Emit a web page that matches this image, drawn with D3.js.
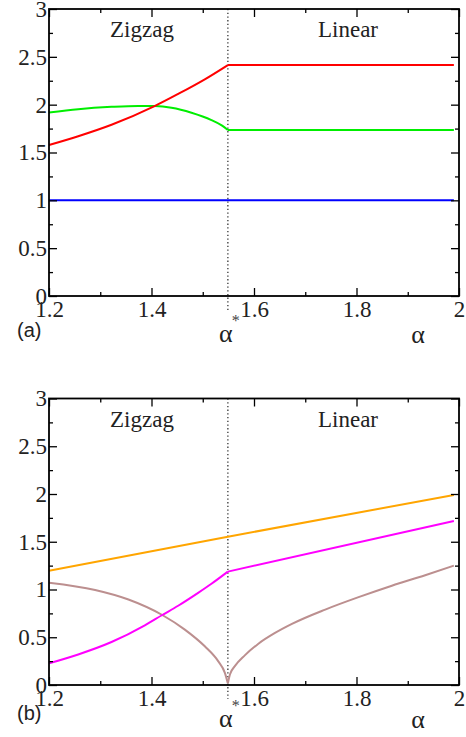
<!DOCTYPE html>
<html>
<head>
<meta charset="utf-8">
<script src="https://cdn.jsdelivr.net/npm/d3@7"></script>
<style>
  html, body { margin: 0; padding: 0; background: #fff; }
  svg { display: block; }
</style>
</head>
<body>
<svg id="chart" width="466" height="737"></svg>
<script>
// ---------- data ----------
const xTickValues = [1.2, 1.4, 1.6, 1.8, 2];
const xTickLabels = ["1.2", "1.4", "1.6", "1.8", "2"];
const yTickValues = [0, 0.5, 1, 1.5, 2, 2.5, 3];
const yTickLabels = ["0", "0.5", "1", "1.5", "2", "2.5", "3"];
const alphaStar = 1.549;
const regionLabels = ["Zigzag", "Linear"];
const panelLabels = ["(a)", "(b)"];

// panel (a)
const redZigAlpha   = [1.2, 1.257, 1.322, 1.406, 1.452, 1.504, 1.549];
const redZigVal     = [1.578, 1.670, 1.790, 1.985, 2.112, 2.265, 2.414];
const redLinAlpha   = [1.549, 1.99];
const redLinVal     = [2.414, 2.414];
const greenZigAlpha = [1.2, 1.257, 1.322, 1.374, 1.406, 1.439, 1.478, 1.517, 1.537, 1.549];
const greenZigVal   = [1.919, 1.953, 1.977, 1.987, 1.985, 1.967, 1.915, 1.838, 1.783, 1.735];
const greenLinAlpha = [1.549, 1.99];
const greenLinVal   = [1.735, 1.735];
const blueAlpha     = [1.2, 1.99];
const blueVal       = [1.0, 1.0];

// panel (b)
const orangeAlpha     = [1.2, 1.549, 1.99];
const orangeVal       = [1.197, 1.553, 1.99];
const magentaZigAlpha = [1.2, 1.257, 1.322, 1.387, 1.421, 1.452, 1.491, 1.517, 1.549];
const magentaZigVal   = [0.227, 0.320, 0.450, 0.625, 0.733, 0.830, 0.965, 1.060, 1.187];
const magentaLinAlpha = [1.549, 1.99];
const magentaLinVal   = [1.187, 1.717];
const brownLeftAlpha  = [1.2, 1.290, 1.355, 1.421, 1.465, 1.504, 1.530, 1.543, 1.549];
const brownLeftVal    = [1.071, 0.995, 0.895, 0.733, 0.580, 0.405, 0.250, 0.130, 0.018];
const brownRightAlpha = [1.549, 1.553, 1.563, 1.582, 1.608, 1.641, 1.674, 1.739, 1.804, 1.869, 1.934, 1.99];
const brownRightVal   = [0.018, 0.110, 0.200, 0.310, 0.430, 0.545, 0.640, 0.790, 0.920, 1.040, 1.150, 1.250];

// ---------- drawing ----------
const svg = d3.select("#chart");
const xLeft = 49, xRight = 459;
const x = d3.scaleLinear().domain([1.2, 2]).range([xLeft, xRight]);
const zip = (a, b) => a.map((v, i) => [v, b[i]]);

function drawPanel(p) {
  const y = d3.scaleLinear().domain([0, 3]).range([p.bottom, p.top]);
  const g = svg.append("g");

  // dotted vertical line at alpha*
  g.append("line")
    .attr("x1", x(alphaStar)).attr("x2", x(alphaStar))
    .attr("y1", p.top).attr("y2", p.bottom + 14)
    .attr("stroke", "#444").attr("stroke-width", 1.4)
    .attr("stroke-dasharray", "1.3,2.4");

  // series
  p.series.forEach(s => {
    const line = d3.line()
      .x(d => x(d[0])).y(d => y(d[1]))
      .curve(s.curve ? d3.curveMonotoneX : d3.curveLinear);
    g.append("path")
      .attr("d", line(zip(s.a, s.v)))
      .attr("fill", "none")
      .attr("stroke", s.color)
      .attr("stroke-width", s.w || 2)
      .attr("stroke-linejoin", "round");
  });

  const fontSerif = "'Liberation Serif', 'Times New Roman', serif";

  const minorX = d3.range(1.3, 2.0, 0.2);
  const minorY = d3.range(0.25, 3, 0.5);

  const axL = g.append("g").attr("transform", `translate(${xLeft},0)`)
    .call(d3.axisLeft(y).tickValues(yTickValues).tickSize(-8).tickPadding(2)
      .tickFormat((d, i) => yTickLabels[i]));
  const axLm = g.append("g").attr("transform", `translate(${xLeft},0)`)
    .call(d3.axisLeft(y).tickValues(minorY).tickSize(-4).tickFormat(""));
  const axR = g.append("g").attr("transform", `translate(${xRight},0)`)
    .call(d3.axisRight(y).tickValues(yTickValues).tickSize(-8).tickFormat(""));
  const axRm = g.append("g").attr("transform", `translate(${xRight},0)`)
    .call(d3.axisRight(y).tickValues(minorY).tickSize(-4).tickFormat(""));
  const axB = g.append("g").attr("transform", `translate(0,${p.bottom})`)
    .call(d3.axisBottom(x).tickValues(xTickValues).tickSize(-8).tickPadding(5)
      .tickFormat((d, i) => xTickLabels[i]));
  const axBm = g.append("g").attr("transform", `translate(0,${p.bottom})`)
    .call(d3.axisBottom(x).tickValues(minorX).tickSize(-4).tickFormat(""));
  const axT = g.append("g").attr("transform", `translate(0,${p.top})`)
    .call(d3.axisTop(x).tickValues(xTickValues).tickSize(-8).tickFormat(""));
  const axTm = g.append("g").attr("transform", `translate(0,${p.top})`)
    .call(d3.axisTop(x).tickValues(minorX).tickSize(-4).tickFormat(""));

  [axL, axLm, axR, axRm, axB, axBm, axT, axTm].forEach(a => {
    a.select(".domain").remove();
    a.selectAll(".tick line").attr("stroke", "#000").attr("stroke-width", 1.3);
    a.selectAll("text").attr("font-family", fontSerif).attr("font-size", 23).attr("fill", "#222");
  });

  // frame
  g.append("rect")
    .attr("x", xLeft).attr("y", p.top)
    .attr("width", xRight - xLeft).attr("height", p.bottom - p.top)
    .attr("fill", "none").attr("stroke", "#000").attr("stroke-width", 1.8);

  // region labels
  g.append("text").attr("x", 142).attr("y", p.top + 28)
    .attr("text-anchor", "middle").attr("font-family", fontSerif)
    .attr("font-size", 23).attr("fill", "#222").text(regionLabels[0]);
  g.append("text").attr("x", 348).attr("y", p.top + 28)
    .attr("text-anchor", "middle").attr("font-family", fontSerif)
    .attr("font-size", 23).attr("fill", "#222").text(regionLabels[1]);

  // panel label
  g.append("text").attr("x", 17).attr("y", p.labelY)
    .attr("font-family", "'Liberation Sans', Arial, sans-serif")
    .attr("font-size", 20).attr("fill", "#222").text(p.label);

  // alpha* label
  g.append("text").attr("x", x(alphaStar) - 2).attr("y", p.alphaY)
    .attr("text-anchor", "middle").attr("font-family", fontSerif)
    .attr("font-size", 26).attr("fill", "#222").text("α");
  g.append("text").attr("x", x(alphaStar) + 8).attr("y", p.alphaY - 16)
    .attr("text-anchor", "middle").attr("font-family", fontSerif)
    .attr("font-size", 16).attr("fill", "#444").text("*");
  // axis name
  g.append("text").attr("x", 418).attr("y", p.alphaY + 1)
    .attr("text-anchor", "middle").attr("font-family", fontSerif)
    .attr("font-size", 26).attr("fill", "#222").text("α");
}

drawPanel({
  top: 9, bottom: 296, label: panelLabels[0], labelY: 337, alphaY: 342,
  series: [
    { a: blueAlpha, v: blueVal, color: "#0000ff" },
    { a: greenZigAlpha, v: greenZigVal, color: "#00ee00", curve: true },
    { a: greenLinAlpha, v: greenLinVal, color: "#00ee00" },
    { a: redZigAlpha, v: redZigVal, color: "#ff0000", curve: true },
    { a: redLinAlpha, v: redLinVal, color: "#ff0000" }
  ]
});

drawPanel({
  top: 398.5, bottom: 685, label: panelLabels[1], labelY: 720, alphaY: 727,
  series: [
    { a: brownLeftAlpha, v: brownLeftVal, color: "#bc8f8f", curve: true },
    { a: brownRightAlpha, v: brownRightVal, color: "#bc8f8f", curve: true },
    { a: orangeAlpha, v: orangeVal, color: "#ffa500" },
    { a: magentaZigAlpha, v: magentaZigVal, color: "#ff00ff", curve: true },
    { a: magentaLinAlpha, v: magentaLinVal, color: "#ff00ff" }
  ]
});
</script>
</body>
</html>
